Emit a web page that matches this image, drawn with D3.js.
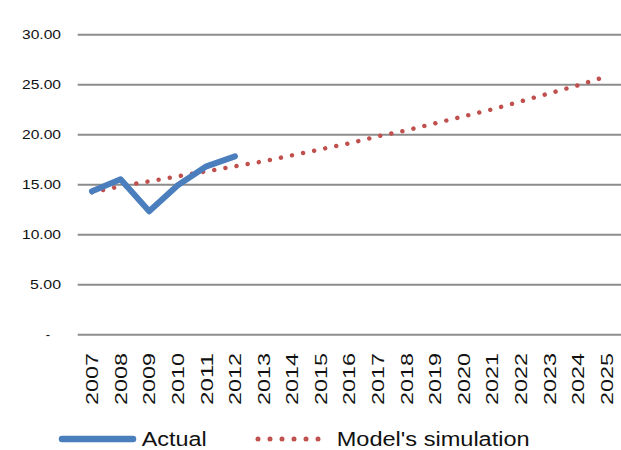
<!DOCTYPE html>
<html>
<head>
<meta charset="utf-8">
<script src="https://cdn.jsdelivr.net/npm/d3@7"></script>
<style>
  html, body { margin: 0; padding: 0; background: #fff; }
  svg { display: block; font-family: "Liberation Sans", Arial, sans-serif; }
</style>
</head>
<body>
<svg id="chart" width="621" height="450"></svg>
<script>
// Yearly categories on the x axis
const years = ["2007","2008","2009","2010","2011","2012","2013","2014","2015","2016",
               "2017","2018","2019","2020","2021","2022","2023","2024","2025"];
// Observed values (2007–2012)
const actual = [14.3, 15.5, 12.3, 14.9, 16.8, 17.8];
// Simulated trajectory (2007–2025)
const model = [14.2, 14.8, 15.3, 15.8, 16.3, 16.8, 17.3, 17.9, 18.5, 19.1,
               19.8, 20.4, 21.1, 21.8, 22.5, 23.3, 24.1, 24.9, 25.8];
const yTicks = [0, 5, 10, 15, 20, 25, 30];
const seriesNames = ["Actual", "Model's simulation"];

const BLUE = "#4a7ebd";
const RED = "#c0504d";
const TEXT = "#111111";

const svg = d3.select("#chart");
const plotLeft = 77.7, plotRight = 621, plotTop = 34.3, plotBottom = 334.3;

const x = d3.scaleBand().domain(years).range([plotLeft, plotRight]).padding(0);
const y = d3.scaleLinear().domain([0, 30]).range([plotBottom, plotTop]);
const cx = d => x(d) + x.bandwidth() / 2;

// Horizontal gridlines and value labels
const yAxis = d3.axisLeft(y)
  .tickValues(yTicks)
  .tickSize(-(plotRight - plotLeft))
  .tickPadding(16.7)
  .tickFormat(d => d === 0 ? "-" : d3.format(".2f")(d));

const gy = svg.append("g").attr("transform", `translate(${plotLeft},0)`).call(yAxis);
gy.select(".domain").remove();
gy.selectAll(".tick line").attr("stroke", "#8c8c8c").attr("stroke-width", 2);
gy.selectAll(".tick text")
  .attr("fill", TEXT)
  .style("font-size", "13px")
  .attr("dy", "0.36em")
  .each(function(d) {
    const t = d3.select(this);
    if (d === 0) {
      t.attr("dx", -11);
    } else {
      const len = d >= 10 ? 39 : 31;
      t.attr("textLength", len).attr("lengthAdjust", "spacingAndGlyphs");
    }
  });

// Year labels, rotated
const xAxis = d3.axisBottom(x).tickSize(0);
const gx = svg.append("g").attr("transform", `translate(0,${plotBottom})`).call(xAxis);
gx.select(".domain").remove();
gx.selectAll(".tick text")
  .attr("fill", TEXT)
  .style("font-size", "17px")
  .attr("transform", "rotate(-90)")
  .attr("x", -18.7)
  .attr("y", 0)
  .attr("dy", "0.36em")
  .style("text-anchor", "end")
  .attr("textLength", 52)
  .attr("lengthAdjust", "spacingAndGlyphs");

// Simulated series: dotted red line
const modelLine = d3.line().x((d, i) => cx(years[i])).y(d => y(d));
svg.append("path")
  .datum(model)
  .attr("d", modelLine)
  .attr("fill", "none")
  .attr("stroke", RED)
  .attr("stroke-width", 4.5)
  .attr("stroke-linecap", "round")
  .attr("stroke-dasharray", "0.001 11.3");

// Actual series: thick blue line
const actualLine = d3.line().x((d, i) => cx(years[i])).y(d => y(d));
svg.append("path")
  .datum(actual)
  .attr("d", actualLine)
  .attr("fill", "none")
  .attr("stroke", BLUE)
  .attr("stroke-width", 6)
  .attr("stroke-linejoin", "round")
  .attr("stroke-linecap", "round");

// Legend
const legend = svg.append("g");
legend.append("line")
  .attr("x1", 62).attr("x2", 133).attr("y1", 439).attr("y2", 439)
  .attr("stroke", BLUE).attr("stroke-width", 6.5).attr("stroke-linecap", "round");
legend.append("text")
  .attr("x", 141.7).attr("y", 445.5)
  .attr("fill", TEXT).style("font-size", "20px")
  .attr("textLength", 65).attr("lengthAdjust", "spacingAndGlyphs")
  .text(seriesNames[0]);
legend.append("line")
  .attr("x1", 258).attr("x2", 319).attr("y1", 439).attr("y2", 439)
  .attr("stroke", RED).attr("stroke-width", 5).attr("stroke-linecap", "round")
  .attr("stroke-dasharray", "0.001 12");
legend.append("text")
  .attr("x", 336.7).attr("y", 445.5)
  .attr("fill", TEXT).style("font-size", "20px")
  .attr("textLength", 193).attr("lengthAdjust", "spacingAndGlyphs")
  .text(seriesNames[1]);
</script>
</body>
</html>
